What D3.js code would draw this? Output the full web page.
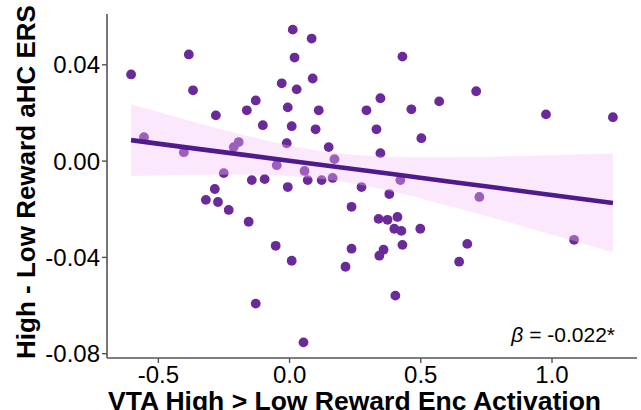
<!DOCTYPE html>
<html>
<head>
<meta charset="utf-8">
<script src="https://cdn.jsdelivr.net/npm/d3@7/dist/d3.min.js"></script>
<style>
  html, body { margin: 0; padding: 0; background: #ffffff; }
  svg { display: block; }
  text { font-family: "Liberation Sans", Arial, sans-serif; }
</style>
</head>
<body>
<svg id="chart" width="641" height="410"></svg>
<script>
// ---- data ----
const vtaActivation = [
  -0.602, -0.382, -0.366, -0.553, -0.401, -0.279, -0.161, -0.127, -0.100, -0.211,
  -0.192, -0.249, -0.283, -0.317, -0.271, -0.142, -0.093, -0.047, -0.009, -0.005,
   0.014,  0.021,  0.086,  0.090, -0.028,  0.029, -0.005,  0.010,  0.101,  0.113,
   0.059,  0.071,  0.124, -0.230, -0.154, -0.051,  0.010, -0.127,  0.055,  0.432,
   0.713,  0.348,  0.572,  0.295,  0.466,  0.333,  0.504,  0.979,  1.234,  0.151,
   0.173,  0.348,  0.166,  0.276,  0.424,  0.382,  0.725,  0.238,  0.341,  0.375,
   0.413,  0.401,  0.428,  0.500,  0.238,  0.360,  0.344,  0.432,  0.679,  0.648,
   0.215,  0.405,  1.086
];
const aHcErs = [
   0.0358,  0.0441,  0.0292,  0.0097,  0.0035,  0.0188,  0.0209,  0.0250,  0.0147,  0.0056,
   0.0077, -0.0052, -0.0118, -0.0163, -0.0172, -0.0081, -0.0077, -0.0019,  0.0072, -0.0110,
   0.0544,  0.0428,  0.0507,  0.0341,  0.0321,  0.0296,  0.0221,  0.0143,  0.0130,  0.0209,
  -0.0043, -0.0081, -0.0081, -0.0205, -0.0254, -0.0354, -0.0416, -0.0594, -0.0755,  0.0432,
   0.0288,  0.0259,  0.0246,  0.0209,  0.0213,  0.0130,  0.0093,  0.0192,  0.0180,  0.0056,
   0.0006,  0.0031, -0.0072, -0.0110, -0.0081, -0.0139, -0.0151, -0.0192, -0.0242, -0.0246,
  -0.0234, -0.0283, -0.0292, -0.0283, -0.0366, -0.0370, -0.0395, -0.0350, -0.0346, -0.0420,
  -0.0441, -0.0561, -0.0329
];
// fitted line and confidence band
const fitX    = [-0.602, -0.4, -0.2, 0.0, 0.2, 0.4, 0.6, 0.8, 1.0, 1.234];
const fitY    = [0.0085, 0.0056, 0.0028, -0.0001, -0.0029, -0.0057, -0.0086, -0.0114, -0.0143, -0.0176];
const fitLow  = [-0.0064, -0.0060, -0.0058, -0.0064, -0.0087, -0.0130, -0.0185, -0.0245, -0.0307, -0.0381];
const fitHigh = [0.0234, 0.0172, 0.0114, 0.0063, 0.0029, 0.0015, 0.0014, 0.0017, 0.0022, 0.0029];
const xTicks = [-0.5, 0.0, 0.5, 1.0];
const xTickLabels = ["-0.5", "0.0", "0.5", "1.0"];
const yTicks = [0.04, 0.00, -0.04, -0.08];
const yTickLabels = ["0.04", "0.00", "-0.04", "-0.08"];
const xTitle = "VTA High > Low Reward Enc Activation";
const yTitle = "High - Low Reward aHC ERS";
const betaLabel = "-0.022*";

// ---- layout ----
const W = 641, H = 410;
const margin = { top: 14, right: 4, bottom: 52, left: 107 };
const svg = d3.select("#chart");
svg.append("rect").attr("width", W).attr("height", H).attr("fill", "#ffffff");

function expand(ext, f) {
  const r = ext[1] - ext[0];
  return [ext[0] - r * f, ext[1] + r * f];
}
const x = d3.scaleLinear()
  .domain(expand(d3.extent(vtaActivation), 0.05))
  .range([margin.left, W - margin.right]);
const y = d3.scaleLinear()
  .domain(expand(d3.extent(aHcErs), 0.05))
  .range([H - margin.bottom, margin.top]);

const points = vtaActivation.map((v, i) => ({ x: v, y: aHcErs[i] }));
const band = fitX.map((v, i) => ({ x: v, y: fitY[i], lo: fitLow[i], hi: fitHigh[i] }));

// points
svg.append("g").selectAll("circle")
  .data(points).enter().append("circle")
  .attr("cx", d => x(d.x))
  .attr("cy", d => y(d.y))
  .attr("r", 4.9)
  .attr("fill", "#6a2a9a");

// confidence ribbon (drawn over points, as in ggplot)
svg.append("path")
  .datum(band)
  .attr("d", d3.area()
    .x(d => x(d.x))
    .y0(d => y(d.lo))
    .y1(d => y(d.hi))
    .curve(d3.curveMonotoneX))
  .attr("fill", "#f6bef6")
  .attr("fill-opacity", 0.36);

// fitted line
svg.append("path")
  .datum(band)
  .attr("d", d3.line().x(d => x(d.x)).y(d => y(d.y)))
  .attr("fill", "none")
  .attr("stroke", "#4e1a8c")
  .attr("stroke-width", 4.6);

// axes
const axisColor = "#555555";
const xAxis = svg.append("g")
  .attr("transform", `translate(0,${H - margin.bottom})`)
  .call(d3.axisBottom(x).tickValues(xTicks)
    .tickFormat((d, i) => xTickLabels[i]).tickSize(5).tickSizeOuter(0));
xAxis.select(".domain").attr("stroke", axisColor).attr("stroke-width", 1.6)
  .attr("d", `M${margin.left},0H${W - margin.right}`);
xAxis.selectAll(".tick line").attr("stroke", axisColor).attr("stroke-width", 1.4);
xAxis.selectAll(".tick text")
  .attr("font-size", 24).attr("fill", "#000").attr("dy", 0).attr("y", 25)
  .attr("font-family", "'Liberation Sans', Arial, sans-serif");

const yAxis = svg.append("g")
  .attr("transform", `translate(${margin.left},0)`)
  .call(d3.axisLeft(y).tickValues(yTicks)
    .tickFormat((d, i) => yTickLabels[i]).tickSize(5).tickSizeOuter(0));
yAxis.select(".domain").attr("stroke", axisColor).attr("stroke-width", 1.6)
  .attr("d", `M0,${margin.top}V${H - margin.bottom}`);
yAxis.selectAll(".tick line").attr("stroke", axisColor).attr("stroke-width", 1.4);
yAxis.selectAll(".tick text")
  .attr("font-size", 24).attr("fill", "#000").attr("x", -7).attr("dy", "0.36em")
  .attr("font-family", "'Liberation Sans', Arial, sans-serif");

// axis titles
svg.append("text")
  .attr("x", 108)
  .attr("y", 410)
  .attr("text-anchor", "start")
  .attr("font-size", 26.5)
  .attr("font-weight", "bold")
  .attr("fill", "#000")
  .text(xTitle);

svg.append("text")
  .attr("transform", `translate(35,${(margin.top + H - margin.bottom) / 2 - 4}) rotate(-90)`)
  .attr("text-anchor", "middle")
  .attr("font-size", 26)
  .attr("font-weight", "bold")
  .attr("fill", "#000")
  .text(yTitle);

// beta annotation
const ann = svg.append("text")
  .attr("x", 615).attr("y", 342)
  .attr("text-anchor", "end")
  .attr("font-size", 21)
  .attr("fill", "#000");
ann.append("tspan").attr("font-style", "italic").text("β");
ann.append("tspan").text(" = " + betaLabel);
</script>
</body>
</html>
